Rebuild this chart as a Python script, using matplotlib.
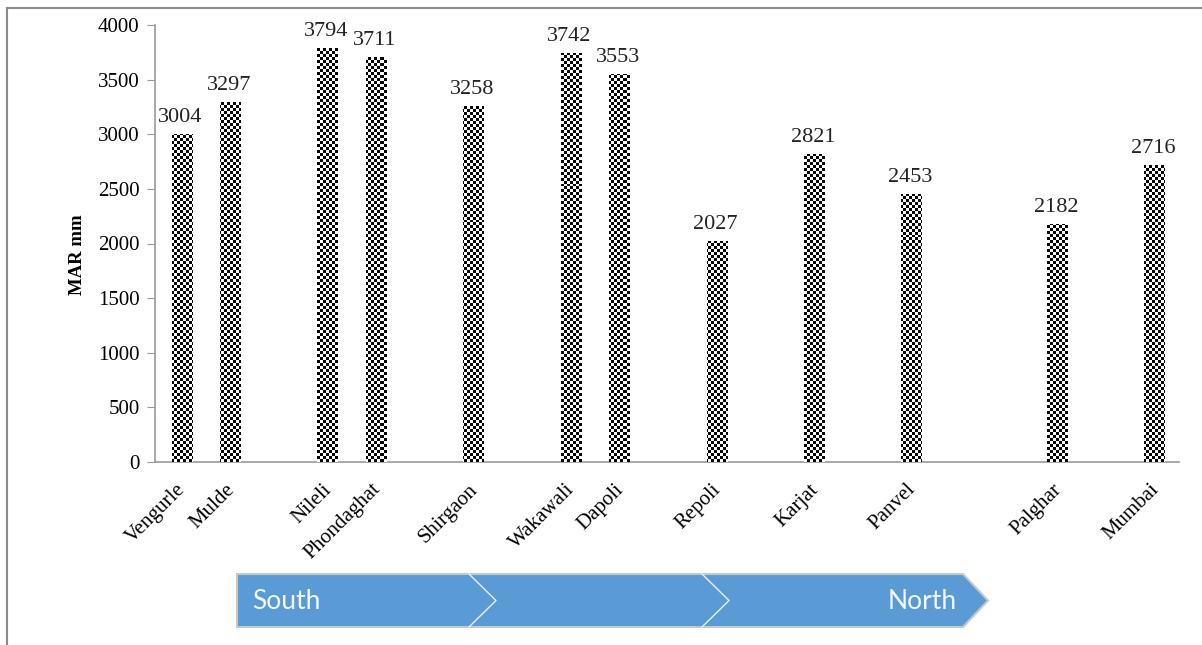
import numpy as np
import matplotlib
matplotlib.use("Agg")
import matplotlib.pyplot as plt
from matplotlib.patches import Polygon
from matplotlib.lines import Line2D
from matplotlib.transforms import ScaledTranslation

# ---- data (blank entries are empty category slots in the original chart) ----
categories = ['Vengurle', 'Mulde', '', 'Nileli', 'Phondaghat', '', 'Shirgaon', '',
              'Wakawali', 'Dapoli', '', 'Repoli', '', 'Karjat', '', 'Panvel', '', '',
              'Palghar', '', 'Mumbai']
values = [3004, 3297, None, 3794, 3711, None, 3258, None,
          3742, 3553, None, 2027, None, 2821, None, 2453, None, None,
          2182, None, 2716]
y_ticks = [0, 500, 1000, 1500, 2000, 2500, 3000, 3500, 4000]
y_label = 'MAR mm'
arrow_left_text = 'South'
arrow_right_text = 'North'

W, H = 1202, 645
fig = plt.figure(figsize=(W / 100, H / 100), dpi=100)
plt.rcParams['font.family'] = ['Liberation Serif', 'DejaVu Serif']

def fx(px):
    return px / W

def fy(py):
    return 1 - py / H

ax_left, ax_right, ax_top, ax_bot = 155, 1179, 25, 462
ax = fig.add_axes([fx(ax_left), fy(ax_bot), fx(ax_right) - fx(ax_left), fy(ax_top) - fy(ax_bot)])

x = np.arange(len(categories))
vals = np.array([np.nan if v is None else v for v in values], dtype=float)
mask = ~np.isnan(vals)

bars = ax.bar(x[mask], vals[mask], width=0.42, color='white', edgecolor='none', zorder=2)
xlim = (-0.55, len(categories) - 0.5)
ax.set_xlim(*xlim)
ax.set_ylim(0, 4000)

# checkerboard texture clipped to each bar
ncols = int(round((ax_right - ax_left) / 3.0))
nrows = int(round((ax_bot - ax_top) / 3.0))
ii, jj = np.indices((nrows, ncols))
checker = ((ii + jj) % 2).astype(float)
for b in bars:
    im = ax.imshow(checker, cmap='gray', vmin=0, vmax=1, interpolation='nearest',
                   extent=[xlim[0], xlim[1], 0, 4000], aspect='auto', zorder=3)
    im.set_clip_path(b)
ax.set_xlim(*xlim)
ax.set_ylim(0, 4000)

# data labels
for xi, v in zip(x[mask], vals[mask]):
    ax.annotate(f'{int(v)}', xy=(xi, v), xytext=(-1, 5), textcoords='offset points',
                ha='center', va='bottom', fontsize=16, color='#222222', zorder=4)

# axes styling
for s in ['top', 'right']:
    ax.spines[s].set_visible(False)
for s in ['left', 'bottom']:
    ax.spines[s].set_color('#9a9a9a')
    ax.spines[s].set_linewidth(1.2)
ax.set_yticks(y_ticks)
ax.set_yticklabels([str(t) for t in y_ticks], fontsize=15)
ax.tick_params(axis='y', direction='out', length=6, color='#9a9a9a', pad=5)
ax.set_xticks(x[mask])
ax.set_xticklabels([c for c, m in zip(categories, mask) if m], rotation=45,
                   ha='right', va='top', rotation_mode='anchor', fontsize=15)
ax.tick_params(axis='x', length=0, pad=13)
shift = ScaledTranslation(-4 / 72, 0, fig.dpi_scale_trans)
for lab in ax.get_xticklabels():
    lab.set_transform(lab.get_transform() + shift)
ax.set_ylabel(y_label, fontsize=13.5, fontweight='bold')
ax.yaxis.set_label_coords(-0.067, 0.475)

# figure border (top and left)
fig.add_artist(Line2D([fx(7), fx(W)], [fy(8), fy(8)], color='#8a8a8a', lw=1.5))
fig.add_artist(Line2D([fx(7), fx(7)], [fy(8), fy(H)], color='#8a8a8a', lw=1.5))

# South -> North arrow
top, bot, mid = 574, 627, 600.5
pts = [(237, top), (963, top), (988, mid), (963, bot), (237, bot)]
fig.add_artist(Polygon([(fx(a), fy(b)) for a, b in pts], closed=True,
                       facecolor='#5b9bd5', edgecolor='#c8c8c8', lw=1.5,
                       transform=fig.transFigure))
for cx in (469, 702):
    fig.add_artist(Line2D([fx(cx), fx(cx + 27), fx(cx)], [fy(top), fy(mid), fy(bot)],
                          color='#e8f0f8', lw=1.0))
fig.text(fx(252), fy(mid + 1), arrow_left_text, ha='left', va='center', fontsize=19,
         color='#f2f6fb', family=['Lato', 'DejaVu Sans'])
fig.text(fx(957), fy(mid + 1), arrow_right_text, ha='right', va='center', fontsize=19,
         color='#f2f6fb', family=['Lato', 'DejaVu Sans'])

fig.savefig('out.png', dpi=100, facecolor='white')
